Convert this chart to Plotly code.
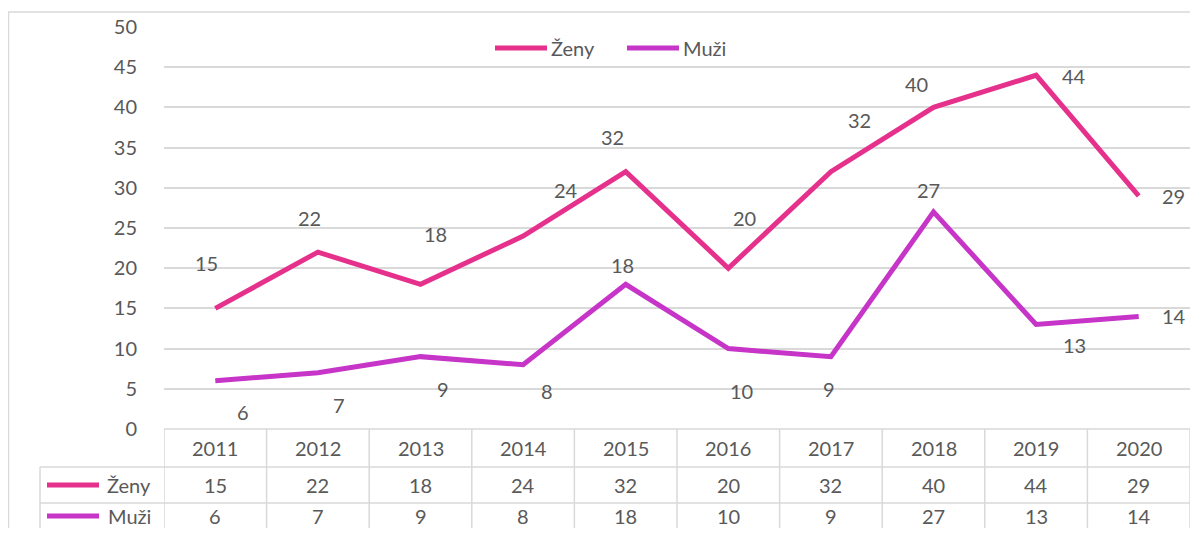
import plotly.graph_objects as go

years = ["2011", "2012", "2013", "2014", "2015", "2016", "2017", "2018", "2019", "2020"]
zeny = [15, 22, 18, 24, 32, 20, 32, 40, 44, 29]
muzi = [6, 7, 9, 8, 18, 10, 9, 27, 13, 14]
series_names = ["Ženy", "Muži"]

# label offsets (px) mimicking Excel's placement
zeny_off = [(-9, -45), (-8, -34), (15, -50), (43, -46), (-13, -35), (16, -50), (29, -52), (-17, -23), (38, 1), (35, 0)]
muzi_off = [(28, 31), (21, 32), (22, 32), (24, 26), (-3, -19), (13, 42), (-2, 32), (-5, -22), (38, 21), (35, 0)]

C_Z = "#E6318C"
C_M = "#C634C8"
TXT = "#595959"
GRID = "#D9D9D9"
FONT = "Lato, Carlito, Liberation Sans, sans-serif"
FS = 20

OFF = 8  # page body margin
W, H = 1198 - 2 * OFF, 536 - 2 * OFF
L, R, T, B = 164 - OFF, 0, 27 - OFF, 107 - OFF
PW, PH = W - L - R, H - T - B


def px(p):
    return (p - 164) / PW


def py(p):
    return (429 - p) / PH


xs = list(range(len(years)))

fig = go.Figure()
fig.add_trace(go.Scatter(x=xs, y=zeny, name=series_names[0], mode="lines",
                         line=dict(color=C_Z, width=5)))
fig.add_trace(go.Scatter(x=xs, y=muzi, name=series_names[1], mode="lines",
                         line=dict(color=C_M, width=5)))

ann = []
for vals, offs in ((zeny, zeny_off), (muzi, muzi_off)):
    for i, (v, (dx, dy)) in enumerate(zip(vals, offs)):
        ann.append(dict(x=i, y=v, text=str(v), showarrow=False, xshift=dx, yshift=-dy,
                        xanchor="center", yanchor="middle",
                        font=dict(size=FS, color=TXT, family=FONT)))

# data table
rows_y = [py(448), py(485), py(516)]
for i, yr in enumerate(years):
    for ry, txt in zip(rows_y, (yr, str(zeny[i]), str(muzi[i]))):
        ann.append(dict(x=i, y=ry, yref="paper", text=txt, showarrow=False,
                        xanchor="center", yanchor="middle",
                        font=dict(size=FS, color=TXT, family=FONT)))

shapes = []
for name, col, ry in zip(series_names, (C_Z, C_M), rows_y[1:]):
    ann.append(dict(x=px(153), y=ry, xref="paper", yref="paper", text=name, showarrow=False,
                    xanchor="right", yanchor="middle", font=dict(size=FS, color=TXT, family=FONT)))
    shapes.append(dict(type="line", xref="paper", yref="paper", x0=px(47), x1=px(99), y0=ry, y1=ry,
                       line=dict(color=col, width=5)))

# legend at top (drawn by hand to get Excel-length keys)
for name, col, x0 in zip(series_names, (C_Z, C_M), (495, 627)):
    shapes.append(dict(type="line", xref="paper", yref="paper", x0=px(x0), x1=px(x0 + 52),
                       y0=py(48), y1=py(48), line=dict(color=col, width=5)))
    ann.append(dict(x=px(x0 + 54), y=py(48), xref="paper", yref="paper", text=name, showarrow=False,
                    xanchor="left", yanchor="middle", font=dict(size=FS, color=TXT, family=FONT)))

gl = dict(color=GRID, width=1.5)
# horizontal table lines
shapes.append(dict(type="line", xref="paper", yref="paper", x0=0, x1=1, y0=0, y1=0, line=gl))
for yy in (467, 503):
    shapes.append(dict(type="line", xref="paper", yref="paper", x0=px(40), x1=1, y0=py(yy), y1=py(yy), line=gl))
shapes.append(dict(type="line", xref="paper", yref="paper", x0=px(40), x1=px(40), y0=py(467), y1=py(545), line=gl))
for i in range(len(years) + 1):
    shapes.append(dict(type="line", xref="x", yref="paper", x0=i - 0.5, x1=i - 0.5,
                       y0=0, y1=py(545), line=gl))
# outer chart border
shapes.append(dict(type="rect", xref="paper", yref="paper", x0=px(8.5), x1=px(1210), y0=py(12), y1=py(560),
                   line=dict(color=GRID, width=1.5), layer="below"))

fig.update_layout(
    width=W, height=H,
    margin=dict(l=L, r=R, t=T, b=B),
    paper_bgcolor="white", plot_bgcolor="white",
    font=dict(family=FONT, size=FS, color=TXT),
    showlegend=False,
    xaxis=dict(range=[-0.5, len(years) - 0.5], showticklabels=False, showgrid=False,
               zeroline=False, ticks=""),
    yaxis=dict(range=[0, 50], dtick=5, showgrid=True, gridcolor=GRID, gridwidth=1.5, zeroline=False,
               ticks="outside", ticklen=22, tickcolor="rgba(0,0,0,0)",
               tickfont=dict(size=FS, color=TXT, family=FONT), showline=False),
    annotations=ann,
    shapes=shapes,
)

fig.write_html("out.html")
